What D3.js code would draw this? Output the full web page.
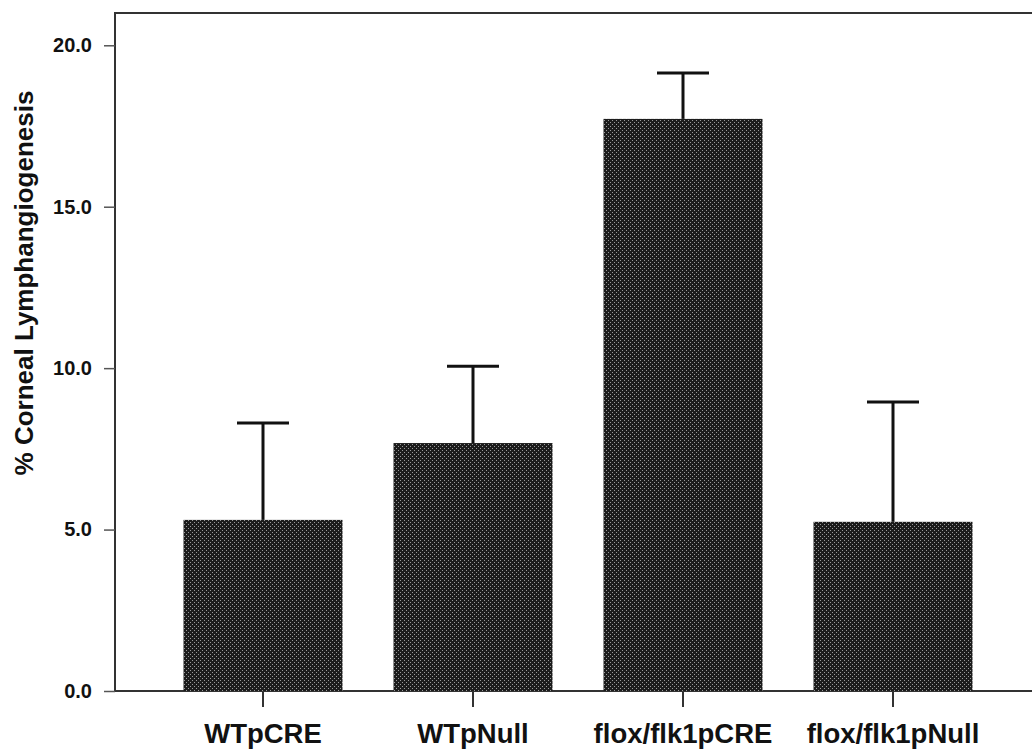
<!DOCTYPE html>
<html>
<head>
<meta charset="utf-8">
<script src="https://cdn.jsdelivr.net/npm/d3@7"></script>
<style>
  html, body { margin: 0; padding: 0; background: #fff; }
  svg { display: block; }
  text { font-family: "Liberation Sans", Arial, sans-serif; font-weight: bold; fill: #111; }
</style>
</head>
<body>
<svg id="chart" width="1032" height="753"></svg>
<script>
const categories = ["WTpCRE", "WTpNull", "flox/flk1pCRE", "flox/flk1pNull"];
const means = [5.3, 7.68, 17.72, 5.24];
const errors = [3.0, 2.38, 1.42, 3.71];
const yTicks = [0, 5, 10, 15, 20];
const yTitle = "% Corneal Lymphangiogenesis";

const svg = d3.select("#chart");
const mLeft = 115, mTop = 13, mBottom = 691, mRight = 1040;

const defs = svg.append("defs");
const pat = defs.append("pattern").attr("id", "dots")
  .attr("width", 4).attr("height", 4).attr("patternUnits", "userSpaceOnUse");
pat.append("rect").attr("width", 4).attr("height", 4).attr("fill", "#1c1c1c");
pat.append("rect").attr("x", 0).attr("y", 0).attr("width", 1).attr("height", 1).attr("fill", "#9a9a9a");
pat.append("rect").attr("x", 2).attr("y", 2).attr("width", 1).attr("height", 1).attr("fill", "#9a9a9a");

const y = d3.scaleLinear().domain([0, 21]).range([mBottom, mTop]);
const x = d3.scaleBand().domain(categories).range([158, 998])
  .paddingInner(0.243).paddingOuter(0.1215);

// frame
svg.append("rect").attr("x", mLeft).attr("y", mTop)
  .attr("width", mRight - mLeft).attr("height", mBottom - mTop)
  .attr("fill", "none").attr("stroke", "#333").attr("stroke-width", 2);

// bars
svg.append("g").selectAll("rect").data(categories).join("rect")
  .attr("x", d => x(d))
  .attr("y", (d, i) => y(means[i]))
  .attr("width", x.bandwidth())
  .attr("height", (d, i) => y(0) - y(means[i]))
  .attr("fill", "url(#dots)");

// error bars
const eg = svg.append("g").attr("stroke", "#111").attr("stroke-width", 3);
categories.forEach((c, i) => {
  const cx = x(c) + x.bandwidth() / 2;
  eg.append("line").attr("x1", cx).attr("x2", cx)
    .attr("y1", y(means[i])).attr("y2", y(means[i] + errors[i]));
  eg.append("line").attr("x1", cx - 26).attr("x2", cx + 26)
    .attr("y1", y(means[i] + errors[i])).attr("y2", y(means[i] + errors[i]));
});

// y axis
const yAxis = d3.axisLeft(y).tickValues(yTicks).tickFormat(d3.format(".1f"))
  .tickSize(11).tickPadding(12);
const ya = svg.append("g").attr("transform", `translate(${mLeft},0)`).call(yAxis);
ya.select(".domain").remove();
ya.selectAll(".tick line").attr("stroke", "#555").attr("stroke-width", 1.5);
ya.selectAll(".tick text").style("font-size", "20px").style("font-weight", "bold")
  .attr("fill", "#111");

// x axis
const xAxis = d3.axisBottom(x).tickSize(16).tickPadding(16);
const xa = svg.append("g").attr("transform", `translate(0,${mBottom})`).call(xAxis);
xa.select(".domain").remove();
xa.selectAll(".tick line").attr("stroke", "#333").attr("stroke-width", 2);
xa.selectAll(".tick text").style("font-size", "27.5px").style("font-weight", "bold")
  .attr("fill", "#111");

// y title
svg.append("text")
  .attr("transform", `translate(33,283) rotate(-90)`)
  .attr("text-anchor", "middle")
  .style("font-size", "26px")
  .text(yTitle);
</script>
</body>
</html>
